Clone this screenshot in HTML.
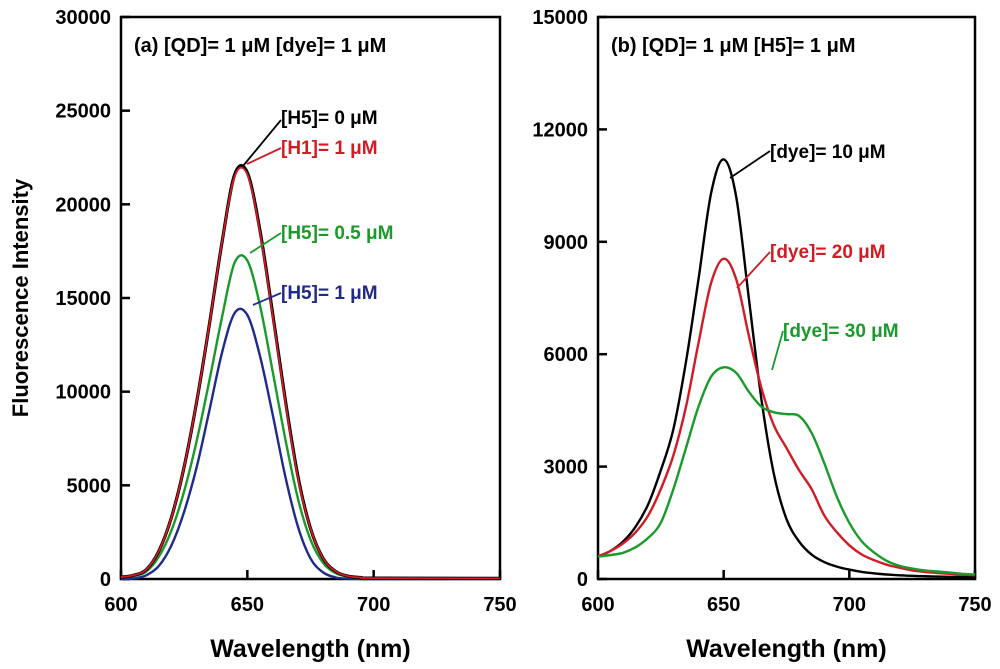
<!DOCTYPE html>
<html><head><meta charset="utf-8"><style>
body{margin:0;background:#fff;}
svg{display:block;font-family:"Liberation Sans",Arial,sans-serif;font-weight:bold;}
</style></head><body>
<svg id="c" width="1000" height="669" viewBox="0 0 1000 669"></svg>
<script>
const xTicks=[600,650,700,750];
const yTicksA=[0,5000,10000,15000,20000,25000,30000];
const yTicksB=[0,3000,6000,9000,12000,15000];
const wlA=[600,605,610,615,620,625,630,635,640,645,650,655,660,665,670,675,680,685,690,695,700,750];
const blackA=[100,200,500,1500,3300,6000,9500,13600,18000,21600,21700,18600,14200,9600,5500,2700,1100,400,150,80,50,30];
const redA=[100,200,500,1500,3300,6000,9500,13600,18000,21500,21600,18500,14100,9500,5400,2700,1100,400,150,80,50,30];
const greenA=[80,160,400,1200,2600,4700,7400,10600,14000,16900,17000,14600,11100,7500,4300,2100,860,310,120,60,40,25];
const blueA=[0,30,200,700,1800,3600,6000,9000,12100,14200,14100,11900,8800,5500,2800,1100,350,80,20,5,0,0];
const wlB=[600,605,610,615,620,625,630,635,640,645,650,655,660,665,670,675,680,685,690,695,700,705,710,715,720,725,730,735,740,745,750];
const blackB=[600,750,1000,1400,2000,2900,4000,5800,8000,10300,11200,10200,7500,4800,2800,1600,1000,650,450,330,250,190,150,120,100,85,75,65,60,55,50];
const redB=[600,750,950,1250,1700,2400,3300,4600,6300,7900,8550,8000,6500,5100,4100,3500,2900,2400,1700,1250,900,650,500,380,300,230,190,160,140,120,100];
const greenB=[600,640,700,850,1100,1500,2400,3500,4600,5400,5650,5500,5000,4600,4450,4400,4350,3900,3100,2200,1500,1000,700,480,350,280,230,200,170,140,120];

const svg=document.getElementById('c');const NS='http://www.w3.org/2000/svg';
function mk(t,a,p){const e=document.createElementNS(NS,t);for(const k in a)e.setAttribute(k,a[k]);(p||svg).appendChild(e);return e;}
function panel(L,R,T,B,ymax){
 const sx=v=>L+(v-600)/150*(R-L), sy=v=>B-v/ymax*(B-T);
 return {sx,sy,L,R,T,B};
}
const A=panel(121,500,17,579,30000), Bp=panel(598,975,17,579,15000);
function axes(P,yt,name){
 const g=mk('g',{});
 
 
 mk('rect',{x:P.L,y:P.T,width:P.R-P.L,height:P.B-P.T,fill:'none',stroke:'#000','stroke-width':2.5},g);
 xTicks.forEach(v=>{const x=P.sx(v);
  mk('line',{x1:x,x2:x,y1:P.B,y2:P.B-9,stroke:'#000','stroke-width':2.5},g);
  const t=mk('text',{x:x,y:P.B+32,'text-anchor':'middle','font-size':20},g);t.textContent=v;
  
  });
 yt.forEach(v=>{const y=P.sy(v);
  mk('line',{x1:P.L,x2:P.L+9,y1:y,y2:y,stroke:'#000','stroke-width':2.5},g);
  const t=mk('text',{x:P.L-10,y:y+7,'text-anchor':'end','font-size':20},g);t.textContent=v;
  
  });
 const xt=mk('text',{x:(P.L+P.R)/2,y:657,'text-anchor':'middle','font-size':25},g);xt.textContent='Wavelength (nm)';
 
 
}
function path(xs,ys){const p=xs.map((x,i)=>[x,ys[i]]);let d='M'+p[0][0].toFixed(1)+','+p[0][1].toFixed(1);
 for(let i=0;i<p.length-1;i++){const p0=p[i-1]||p[i],p1=p[i],p2=p[i+1],p3=p[i+2]||p2;
  d+=' C'+(p1[0]+(p2[0]-p0[0])/6).toFixed(1)+','+(p1[1]+(p2[1]-p0[1])/6).toFixed(1)+' '+(p2[0]-(p3[0]-p1[0])/6).toFixed(1)+','+(p2[1]-(p3[1]-p1[1])/6).toFixed(1)+' '+p2[0].toFixed(1)+','+p2[1].toFixed(1);}
 return d;}
function series(P,wl,vals,col,name,w){
 const e=mk('path',{d:path(wl.map(P.sx),vals.map(P.sy)),fill:'none',stroke:col,'stroke-width':w||2.4,'stroke-linejoin':'round'});
 
 }
function label(x,y,txt,col,name,fs){const t=mk('text',{x:x,y:y,'font-size':fs||19,fill:col});t.textContent=txt;
 
 }
function ln(x1,y1,x2,y2,col){mk('line',{x1,y1,x2,y2,stroke:col,'stroke-width':1.8});}
axes(A,yTicksA,'panel-a');axes(Bp,yTicksB,'panel-b');
series(A,wlA,blueA,'#1f2a8a','series-h5-1');
series(A,wlA,greenA,'#1a9a2a','series-h5-0.5');
series(A,wlA,blackA,'#000','series-h5-0',3.2);
series(A,wlA,redA,'#d01c24','series-h1-1',1.8);
series(Bp,wlB,blackB,'#000','series-dye-10');
series(Bp,wlB,redB,'#d01c24','series-dye-20');
series(Bp,wlB,greenB,'#1a9a2a','series-dye-30');
label(134,52,'(a) [QD]= 1 μM  [dye]= 1 μM','#000','panel-a-title',20);
label(611,52,'(b) [QD]= 1 μM  [H5]= 1 μM','#000','panel-b-title',20);
label(281,124,'[H5]= 0 μM','#000','label-h5-0');ln(243,166,281,120,'#000');
label(281,154,'[H1]= 1 μM','#d01c24','label-h1-1');ln(247,164,281,148,'#d01c24');
label(281,239,'[H5]= 0.5 μM','#1a9a2a','label-h5-0.5');ln(250,253,281,233,'#1a9a2a');
label(281,299,'[H5]= 1 μM','#1f2a8a','label-h5-1');ln(253,305,281,293,'#1f2a8a');
label(770,158,'[dye]= 10 μM','#000','label-dye-10');ln(730,178,770,151,'#000');
label(770,258,'[dye]= 20 μM','#d01c24','label-dye-20');ln(737,288,770,252,'#d01c24');
label(783,337,'[dye]= 30 μM','#1a9a2a','label-dye-30');ln(772,370,783,331,'#1a9a2a');
const yt=mk('text',{x:0,y:0,'text-anchor':'middle','font-size':22,transform:'translate(28,298) rotate(-90)'});
yt.textContent='Fluorescence Intensity';


</script>
</body></html>
